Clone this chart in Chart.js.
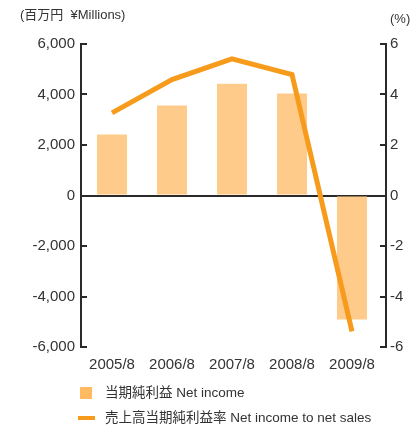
<!DOCTYPE html>
<html>
<head>
<meta charset="utf-8">
<script src="https://cdn.jsdelivr.net/npm/chart.js@4/dist/chart.umd.min.js"></script>
<style>
html,body{margin:0;padding:0;background:#fff;}
canvas{display:block;}
</style>
</head>
<body>
<canvas id="c" width="412" height="432"></canvas>
<script>
const categories = ['2005/8','2006/8','2007/8','2008/8','2009/8'];
const netIncome = [2420, 3560, 4430, 4040, -4910];
const netIncomeRatio = [3.27, 4.59, 5.41, 4.79, -5.38];
const leftTicks = [-6000,-4000,-2000,0,2000,4000,6000];
const rightTicks = [-6,-4,-2,0,2,4,6];
const leftUnit = '(百万円  ¥Millions)';
const rightUnit = '(%)';
const barLabel = '当期純利益 Net income';
const lineLabel = '売上高当期純利益率 Net income to net sales';

const FONT = '"Liberation Sans", Arial, "Noto Sans CJK JP", sans-serif';
const TEXT = '#333';
const AXIS = '#2a2a2a';
const BAR = '#FFCB8A';
const BAR_LEG = '#FFBA62';
const LINE = '#F79B1C';

const barPoints = categories.map((c, i) => ({ x: i, y: netIncome[i] }));
const linePoints = categories.map((c, i) => ({ x: i, y: netIncomeRatio[i] }));

const extras = {
  id: 'extras',
  afterDraw(chart) {
    const ctx = chart.ctx;
    const ca = chart.chartArea;
    const y = chart.scales.y, y1 = chart.scales.y1;
    ctx.save();
    ctx.strokeStyle = AXIS;
    ctx.lineWidth = 2;
    ctx.beginPath();
    y.ticks.forEach(t => {
      const p = Math.round(y.getPixelForValue(t.value));
      ctx.moveTo(ca.left, p); ctx.lineTo(ca.left + 6, p);
    });
    y1.ticks.forEach(t => {
      const p = Math.round(y1.getPixelForValue(t.value));
      ctx.moveTo(ca.right - 6, p); ctx.lineTo(ca.right, p);
    });
    ctx.stroke();
    // units
    ctx.fillStyle = TEXT;
    ctx.textBaseline = 'middle';
    ctx.textAlign = 'left';
    ctx.font = '13px ' + FONT;
    ctx.fillText(leftUnit, 20, 15);
    ctx.fillText(rightUnit, 390, 19);
    // legend
    const ds = chart.data.datasets;
    ctx.fillStyle = BAR_LEG;
    ctx.fillRect(80, 387, 12, 12);
    ctx.strokeStyle = LINE;
    ctx.lineWidth = 4;
    ctx.beginPath();
    ctx.moveTo(78, 418); ctx.lineTo(95, 418);
    ctx.stroke();
    ctx.fillStyle = TEXT;
    ctx.font = '13.5px ' + FONT;
    ctx.fillText(ds[0].label, 105, 393);
    ctx.fillText(ds[1].label, 105, 418);
    ctx.restore();
  }
};

new Chart(document.getElementById('c'), {
  type: 'bar',
  data: {
    datasets: [
      {
        label: barLabel,
        data: barPoints,
        backgroundColor: BAR,
        borderWidth: 0,
        yAxisID: 'y',
        barPercentage: 0.5,
        categoryPercentage: 1,
        order: 2
      },
      {
        type: 'line',
        label: lineLabel,
        data: linePoints,
        borderColor: LINE,
        borderWidth: 5,
        pointRadius: 0,
        tension: 0,
        fill: false,
        yAxisID: 'y1',
        order: 1
      }
    ]
  },
  plugins: [extras],
  options: {
    responsive: false,
    devicePixelRatio: 1,
    animation: false,
    layout: { padding: { top: 44, bottom: 0, left: 0, right: 0 } },
    plugins: { legend: { display: false }, tooltip: { enabled: false } },
    scales: {
      x: {
        type: 'linear',
        min: -0.517, max: 4.567,
        offset: false,
        afterBuildTicks(s) { s.ticks = categories.map((c, i) => ({ value: i })); },
        grid: { display: false },
        border: { display: false },
        ticks: {
          color: TEXT, font: { family: FONT, size: 15 }, padding: 1, maxRotation: 0,
          autoSkip: false,
          callback: v => categories[v]
        },
        afterFit(s) { s.height = 85; }
      },
      y: {
        position: 'left',
        min: -6000, max: 6000,
        afterBuildTicks(s) { s.ticks = leftTicks.map(v => ({ value: v })); },
        ticks: {
          color: TEXT, font: { family: FONT, size: 15 }, padding: 6,
          callback: v => v.toLocaleString('en-US')
        },
        grid: {
          drawTicks: false,
          lineWidth: 2,
          color: c => (c.tick && c.tick.value === 0) ? AXIS : 'rgba(0,0,0,0)'
        },
        border: { display: true, color: AXIS, width: 2 },
        afterFit(s) { s.width = 81; }
      },
      y1: {
        position: 'right',
        min: -6, max: 6,
        afterBuildTicks(s) { s.ticks = rightTicks.map(v => ({ value: v })); },
        ticks: { color: TEXT, font: { family: FONT, size: 15 }, padding: 4 },
        grid: { drawOnChartArea: false, drawTicks: false },
        border: { display: true, color: AXIS, width: 2 },
        afterFit(s) { s.width = 26; }
      }
    }
  }
});
</script>
</body>
</html>
